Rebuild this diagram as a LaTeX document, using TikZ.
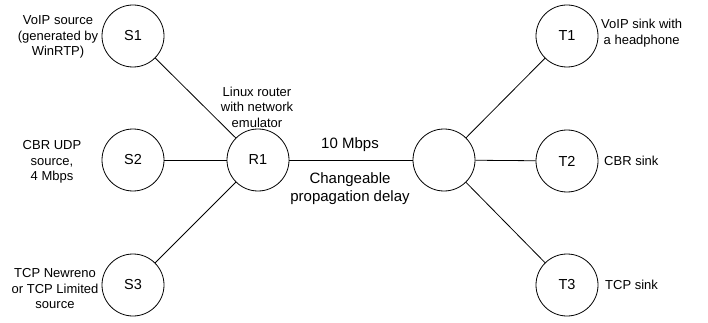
\documentclass[tikz,border=0pt]{standalone}
\usepackage{fontspec}
\setmainfont{Liberation Sans}
\begin{document}
\begin{tikzpicture}[x=1pt,y=-1pt,
  host/.style={draw,circle,minimum size=62pt,inner sep=0pt,line width=0.8pt,font=\fontsize{14.5}{17}\selectfont},
  note/.style={align=center,font=\fontsize{13}{15.5}\selectfont,inner sep=0pt},
  linknote/.style={align=center,font=\fontsize{15}{18}\selectfont,inner sep=0pt},
  link/.style={line width=0.8pt}]
\useasboundingbox (0,0) rectangle (708,323);
% hosts and routers
\node[host] (S1) at (133,36) {S1};
\node[host] (S2) at (133,160) {S2};
\node[host] (S3) at (133,285) {S3};
\node[host] (R1) at (258,160) {R1};
\node[host] (R2) at (444,160) {};
\node[host] (T1) at (567,36) {T1};
\node[host] (T2) at (567,161) {T2};
\node[host] (T3) at (567,285) {T3};
% links
\draw[link] (S1) -- (R1);
\draw[link] (S2) -- (R1);
\draw[link] (S3) -- (R1);
\draw[link] (R1) -- (R2);
\draw[link] (R2) -- (T1);
\draw[link] (R2) -- (T2);
\draw[link] (R2) -- (T3);
% labels
\node[note] (lS1) at (58,37) {VoIP source\\(generated by\\WinRTP)};
\node[note] (lS2) at (52,162) {CBR UDP\\source,\\4 Mbps};
\node[note] (lS3) at (55,289) {TCP Newreno\\or TCP Limited\\source};
\node[note] (lR1) at (257,107) {Linux router\\with network\\emulator};
\node[linknote] (bw) at (350,145) {10 Mbps};
\node[linknote] (dl) at (350,189) {Changeable\\propagation delay};
\node[note,anchor=west] (lT1) at (601,33) {VoIP sink with\\a headphone};
\node[note,anchor=west] (lT2) at (604,161) {CBR sink};
\node[note,anchor=west] (lT3) at (605,285) {TCP sink};
\end{tikzpicture}
\end{document}
